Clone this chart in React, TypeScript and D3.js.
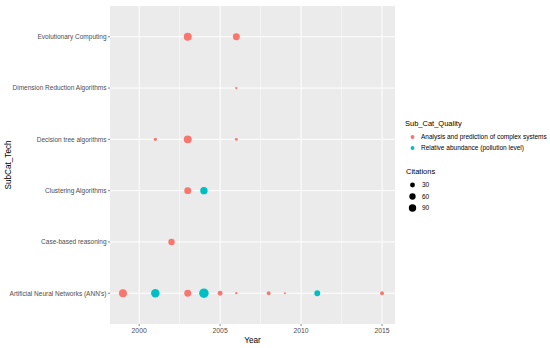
import React, { useEffect, useRef } from 'react';
import * as d3 from 'd3';

// categories (bottom to top in the plot)
const techs: string[] = [
  "Artificial Neural Networks (ANN's)",
  'Case-based reasoning',
  'Clustering Algorithms',
  'Decision tree algorithms',
  'Dimension Reduction Algorithms',
  'Evolutionary Computing',
];
const qualities: string[] = [
  'Analysis and prediction of complex systems',
  'Relative abundance (pollution level)',
];
const qualityColors: string[] = ['#F8766D', '#00BFC4'];

// one entry per point
const pointTech: number[] = [0, 0, 0, 0, 0, 0, 0, 0, 0, 0, 1, 2, 2, 3, 3, 3, 4, 5, 5];
const pointYear: number[] = [1999, 2001, 2003, 2004, 2005, 2006, 2008, 2009, 2011, 2015, 2002, 2003, 2004, 2001, 2003, 2006, 2006, 2003, 2006];
const pointQuality: number[] = [0, 1, 0, 1, 0, 0, 0, 0, 1, 0, 0, 0, 1, 0, 0, 0, 0, 0, 0];
const pointCitations: number[] = [106, 124, 76, 162, 30, 2, 15, 1, 50, 15, 62, 76, 90, 9, 106, 5, 2, 106, 76];

const xTicks: number[] = [2000, 2005, 2010, 2015];
const xMinor: number[] = [2002.5, 2007.5, 2012.5];
const sizeBreaks: number[] = [30, 60, 90];

const W = 550;
const H = 348;
const FONT = '"Liberation Sans", Arial, sans-serif';

const App: React.FC = () => {
  const ref = useRef<SVGSVGElement | null>(null);

  useEffect(() => {
    const svg = d3.select(ref.current);
    svg.selectAll('*').remove();

    const left = 110, right = 395, top = 6, bottom = 324;

    const yrExt = d3.extent(pointYear) as [number, number];
    const pad = (yrExt[1] - yrExt[0]) * 0.05;
    const x = d3.scaleLinear().domain([yrExt[0] - pad, yrExt[1] + pad]).range([left, right]);
    const y = d3.scalePoint<string>().domain(techs).range([bottom, top]).padding(0.6);

    const cExt = d3.extent(pointCitations) as [number, number];
    const rs = d3.scaleLinear().domain([Math.sqrt(cExt[0]), Math.sqrt(cExt[1])]).range([1, 4.75]);
    const r = (v: number) => rs(Math.sqrt(v));

    svg.append('rect').attr('x', left).attr('y', top)
      .attr('width', right - left).attr('height', bottom - top).attr('fill', '#EBEBEB');

    const grid = svg.append('g');
    grid.selectAll('.minor').data(xMinor).enter().append('line')
      .attr('x1', d => x(d)).attr('x2', d => x(d)).attr('y1', top).attr('y2', bottom)
      .attr('stroke', '#fff').attr('stroke-width', 0.5);
    grid.selectAll('.majx').data(xTicks).enter().append('line')
      .attr('x1', d => x(d)).attr('x2', d => x(d)).attr('y1', top).attr('y2', bottom)
      .attr('stroke', '#fff').attr('stroke-width', 1);
    grid.selectAll('.majy').data(techs).enter().append('line')
      .attr('y1', d => y(d)!).attr('y2', d => y(d)!).attr('x1', left).attr('x2', right)
      .attr('stroke', '#fff').attr('stroke-width', 1);

    const idx = d3.range(pointYear.length);
    svg.append('g').selectAll('circle').data(idx).enter().append('circle')
      .attr('cx', i => x(pointYear[i]))
      .attr('cy', i => y(techs[pointTech[i]])!)
      .attr('r', i => r(pointCitations[i]))
      .attr('fill', i => qualityColors[pointQuality[i]]);

    // y axis
    const ya = svg.append('g');
    techs.forEach(t => {
      ya.append('line').attr('x1', left - 2).attr('x2', left).attr('y1', y(t)!).attr('y2', y(t)!)
        .attr('stroke', '#333').attr('stroke-width', 0.6);
      ya.append('text').attr('x', left - 3.5).attr('y', y(t)! + 2.3).attr('text-anchor', 'end')
        .attr('font-size', 6.5).attr('fill', '#4D4D4D').attr('font-family', FONT).text(t);
    });

    // x axis
    const xa = svg.append('g');
    xTicks.forEach(t => {
      xa.append('line').attr('x1', x(t)).attr('x2', x(t)).attr('y1', bottom).attr('y2', bottom + 2)
        .attr('stroke', '#333').attr('stroke-width', 0.6);
      xa.append('text').attr('x', x(t)).attr('y', bottom + 9).attr('text-anchor', 'middle')
        .attr('font-size', 6.8).attr('fill', '#4D4D4D').attr('font-family', FONT).text(String(t));
    });

    svg.append('text').attr('x', (left + right) / 2).attr('y', 343).attr('text-anchor', 'middle')
      .attr('font-size', 8.2).attr('fill', '#000').attr('font-family', FONT).text('Year');
    svg.append('text').attr('transform', `translate(11,${(top + bottom) / 2}) rotate(-90)`)
      .attr('text-anchor', 'middle').attr('font-size', 8.2).attr('fill', '#000')
      .attr('font-family', FONT).text('SubCat_Tech');

    // legends
    const lg = svg.append('g');
    lg.append('text').attr('x', 405).attr('y', 126).attr('font-size', 7.5)
      .attr('font-family', FONT).attr('fill', '#000').text('Sub_Cat_Quality');
    qualities.forEach((q, i) => {
      const cy = 137 + i * 11;
      lg.append('circle').attr('cx', 412.5).attr('cy', cy).attr('r', 1.9).attr('fill', qualityColors[i]);
      lg.append('text').attr('x', 421).attr('y', cy + 2.2).attr('font-size', 6.5)
        .attr('font-family', FONT).attr('fill', '#000').text(q);
    });

    lg.append('text').attr('x', 406).attr('y', 174).attr('font-size', 7.5)
      .attr('font-family', FONT).attr('fill', '#000').text('Citations');
    sizeBreaks.forEach((b, i) => {
      const cy = 185 + i * 11.5;
      lg.append('circle').attr('cx', 412.5).attr('cy', cy).attr('r', r(b)).attr('fill', '#000');
      lg.append('text').attr('x', 422).attr('y', cy + 2.2).attr('font-size', 6.5)
        .attr('font-family', FONT).attr('fill', '#000').text(String(b));
    });
  }, []);

  return (
    <svg ref={ref} width={W} height={H}
      style={{ position: 'absolute', left: 0, top: 0, background: '#fff' }} />
  );
};

export default App;
